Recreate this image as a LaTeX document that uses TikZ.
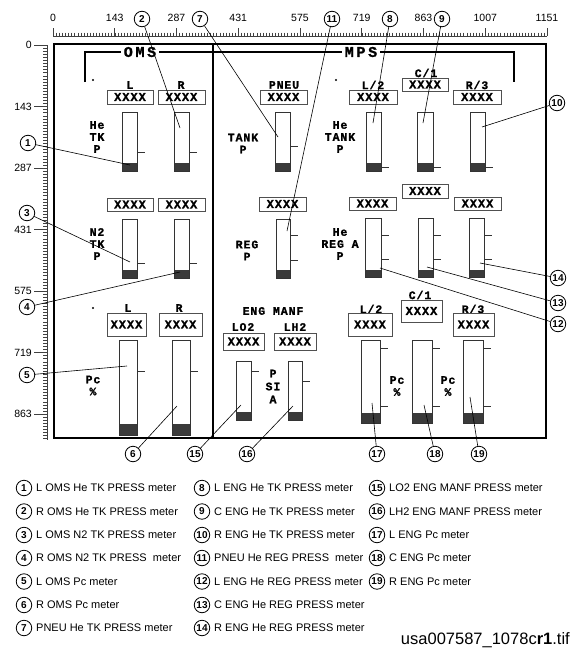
\documentclass[tikz,border=0pt]{standalone}
\usepackage{fontspec}
\setmainfont{Liberation Sans}
\newfontfamily\cour[LetterSpace=8, BoldFeatures={FakeBold=1.2}]{Liberation Mono}
\newfontfamily\courbig[LetterSpace=18, BoldFeatures={FakeBold=1.2}]{Liberation Mono}
\definecolor{darkfill}{HTML}{3A3A3A}
\definecolor{edgegray}{HTML}{505050}
\newcommand\gauge[5]{\fill[darkfill] (#1,#5) rectangle (#2,#4); \draw[barline] (#1,#3) rectangle (#2,#4);}
\newcommand\gtick[2]{\draw[barline] (#1,#2) -- ++(8,0);}
\newcommand\valbox[5]{\node[valbox, minimum width={#4-#2}, minimum height={#5-#3}] (#1) at ({(#2+#4)/2},{(#3+#5)/2}) {XXXX};}
\newcommand\legitem[5]{\node[callout] (#1) at (#2,#3) {#4}; \node[legtext] (#1t) at (#2+12,#3) {#5};}
\begin{document}
\begin{tikzpicture}[x=1pt,y=-1pt,
  lbl/.style={font=\cour\bfseries\fontsize{11.5}{11}\selectfont, align=center, inner sep=0},
  title/.style={font=\courbig\bfseries\fontsize{15}{15}\selectfont, inner sep=0, fill=white, inner xsep=3pt},
  valbox/.style={draw=edgegray, line width=0.9pt, font=\cour\bfseries\fontsize{12}{12}\selectfont, inner sep=0},
  barline/.style={draw=black!80, line width=0.9pt},
  frame/.style={line width=1.5pt},
  callout/.style={circle, draw, line width=0.8pt, minimum size=15.5pt, inner sep=0, font=\bfseries\fontsize{10}{10}\selectfont},
  lead/.style={line width=0.6pt},
  ruler/.style={draw=black!75, line width=0.6pt},
  rlbl/.style={font=\fontsize{10.5}{11}\selectfont, inner sep=0},
  legtext/.style={anchor=west, inner sep=0, font=\fontsize{11}{12}\selectfont}]
\useasboundingbox (0,0) rectangle (573,648);

% rulers
\draw[ruler] (53,36) -- (547,36);
\foreach \j in {0,...,160} \draw[ruler, line width=0.4pt] (53+3.0875*\j,32.5) -- ++(0,3.5);
\foreach \i/\l in {0/0,1/143,2/287,3/431,4/575,5/719,6/863,7/1007,8/1151} {
  \draw[ruler] (53+61.75*\i,28) -- (53+61.75*\i,36);
  \node[rlbl] (tx\i) at (53+61.75*\i,18) {\l};
}
\draw[ruler] (47,45) -- (47,440);
\foreach \j in {0,...,128} \draw[ruler, line width=0.4pt] (43,45+3.075*\j) -- (47,45+3.075*\j);
\foreach \i/\l in {0/0,1/143,2/287,3/431,4/575,5/719,6/863} {
  \draw[ruler] (34,45+61.5*\i) -- (47,45+61.5*\i);
  \node[rlbl, anchor=east] (ty\i) at (32,45+61.5*\i) {\l};
}

% frame
\draw[frame] (54,44) rectangle (546,438);
\draw[frame] (213,44) -- (213,438);
\draw[line width=1.5pt] (85,82) -- (85,52) -- (514,52) -- (514,82);
\node[title] (oms) at (140,52) {OMS};
\node[title] (mps) at (361,52) {MPS};
\fill (93,80) circle (1.1);
\fill (336,80) circle (1.1);
\fill (93,308) circle (1.1);

% OMS labels
\node[lbl] (lL) at (130,85) {L};
\node[lbl] (lR) at (181,85) {R};
\node[lbl] (heTK) at (97,137) {He\\[1pt]TK\\[1pt]P};
\node[lbl] (n2TK) at (97,244) {N2\\[1pt]TK\\[1pt]P};
\node[lbl] (pL) at (128,308) {L};
\node[lbl] (pR) at (179,308) {R};
\node[lbl] (pcO) at (93,385.5) {Pc\\[1pt]\%};

\valbox{b1}{107}{90}{153}{104}
\valbox{b2}{158}{90}{205}{104}
\valbox{b3}{107}{198}{153}{211}
\valbox{b4}{158}{198}{205}{211}
\valbox{b5}{107}{313}{146}{336}
\valbox{b6}{159}{313}{202}{336}

\gauge{122}{137}{112}{171}{163} \gtick{137}{152}
\gauge{174}{189}{112}{171}{163} \gtick{189}{152}
\gauge{122}{137}{219}{278}{270} \gtick{137}{263}
\gauge{174}{189}{219}{278}{270} \gtick{189}{263}
\gauge{119}{137}{340}{435}{424} \gtick{137}{371}
\gauge{172}{190}{340}{435}{424} \gtick{190}{371}

% centre
\node[lbl] (pneu) at (284,85) {PNEU};
\node[lbl] (tank) at (243,143.5) {TANK\\[1pt]P};
\node[lbl] (reg) at (247,250.5) {REG\\[1pt]P};
\node[lbl] (engm) at (273,311) {ENG MANF};
\node[lbl] (lo2) at (243,327) {LO2};
\node[lbl] (lh2) at (295,327) {LH2};
\node[lbl] (psia) at (273,386.5) {P\\[2pt]SI\\[2pt]A};
\valbox{b7}{260}{90}{307}{104}
\valbox{b11}{259}{197}{306}{211}
\valbox{b15}{223}{333}{264}{350}
\valbox{b16}{274}{333}{316}{350}
\gauge{275}{290}{112}{171}{163} \gtick{290}{146}
\gauge{276}{290}{219}{278}{270} \gtick{290}{235} \gtick{290}{260}
\gauge{236}{251}{361}{420}{412} \gtick{251}{371}
\gauge{288}{302}{361}{420}{412} \gtick{302}{381}

% MPS
\node[lbl] (mL) at (373,85) {L/2};
\node[lbl] (mC) at (426,73) {C/1};
\node[lbl] (mR) at (477,85) {R/3};
\node[lbl] (heTank) at (340,137) {He\\[1pt]TANK\\[1pt]P};
\node[lbl] (heReg) at (340,244) {He\\[1pt]REG A\\[1pt]P};
\node[lbl] (qL) at (371,309) {L/2};
\node[lbl] (qC) at (420,295) {C/1};
\node[lbl] (qR) at (473,309) {R/3};
\node[lbl] (pc1) at (397,386) {Pc\\[1pt]\%};
\node[lbl] (pc2) at (448,386) {Pc\\[1pt]\%};
\valbox{b8}{349}{90}{397}{104}
\valbox{b9}{402}{78}{448}{91}
\valbox{b10}{453}{90}{501}{104}
\valbox{b12}{349}{197}{396}{210}
\valbox{b13}{402}{184}{448}{198}
\valbox{b14}{454}{197}{501}{210}
\valbox{b17}{348}{313}{392}{336}
\valbox{b18}{401}{300}{442}{322}
\valbox{b19}{453}{313}{494}{336}
\gauge{366}{381}{112}{171}{163} \gtick{381}{167}
\gauge{417}{433}{112}{171}{163} \gtick{433}{167}
\gauge{470}{485}{112}{171}{163} \gtick{485}{167}
\gauge{365}{381}{218}{277}{270} \gtick{381}{235} \gtick{381}{259}
\gauge{418}{433}{218}{277}{270} \gtick{433}{235} \gtick{433}{259}
\gauge{469}{484}{218}{277}{270} \gtick{484}{235} \gtick{484}{259}
\gauge{361}{380}{340}{423}{413} \gtick{380}{348} \gtick{380}{406}
\gauge{412}{432}{340}{423}{413} \gtick{432}{348} \gtick{432}{406}
\gauge{463}{483}{340}{423}{413} \gtick{483}{348} \gtick{483}{406}

% callouts
\foreach \n/\cx/\cy/\tx/\ty in {1/28/143/130/165, 2/142/19/180/128, 3/27/213/130/262, 4/27/307/180/272,
  5/27/375/127/366, 6/133/454/177/406, 7/200/19/278/137, 8/390/19/373/123, 9/442/19/423/123,
  10/557/103/482/127, 11/332/19/287/231, 12/558/324/380/268, 13/558/303/427/267, 14/558/278/480/263,
  15/195/454/241/405, 16/247/454/293/406, 17/377/454/372/403, 18/435/454/424/405, 19/479/454/470/397} {
  \node[callout, fill=white] (c\n) at (\cx,\cy) {\n};
  \coordinate (t\n) at (\tx,\ty);
  \draw[lead] (c\n) -- (t\n);
}

% legend
\legitem{l1}{24}{488}{1}{L OMS He TK PRESS meter}
\legitem{l2}{24}{511.5}{2}{R OMS He TK PRESS meter}
\legitem{l3}{24}{535}{3}{L OMS N2 TK PRESS meter}
\legitem{l4}{24}{558}{4}{R OMS N2 TK PRESS \ meter}
\legitem{l5}{24}{581.5}{5}{L OMS Pc meter}
\legitem{l6}{24}{605}{6}{R OMS Pc meter}
\legitem{l7}{24}{628}{7}{PNEU He TK PRESS meter}
\legitem{l8}{202}{488}{8}{L ENG He TK PRESS meter}
\legitem{l9}{202}{511.5}{9}{C ENG He TK PRESS meter}
\legitem{l10}{202}{535}{10}{R ENG He TK PRESS meter}
\legitem{l11}{202}{558}{11}{PNEU He REG PRESS \ meter}
\legitem{l12}{202}{581.5}{12}{L ENG He REG PRESS meter}
\legitem{l13}{202}{605}{13}{C ENG He REG PRESS meter}
\legitem{l14}{202}{628}{14}{R ENG He REG PRESS meter}
\legitem{l15}{377}{488}{15}{LO2 ENG MANF PRESS meter}
\legitem{l16}{377}{511.5}{16}{LH2 ENG MANF PRESS meter}
\legitem{l17}{377}{535}{17}{L ENG Pc meter}
\legitem{l18}{377}{558}{18}{C ENG Pc meter}
\legitem{l19}{377}{581.5}{19}{R ENG Pc meter}
\node[anchor=east, inner sep=0, font=\fontsize{16.5}{18}\selectfont] (fname) at (570,640) {usa007587\_1078c\textbf{r1}.tif};
\end{tikzpicture}
\end{document}
